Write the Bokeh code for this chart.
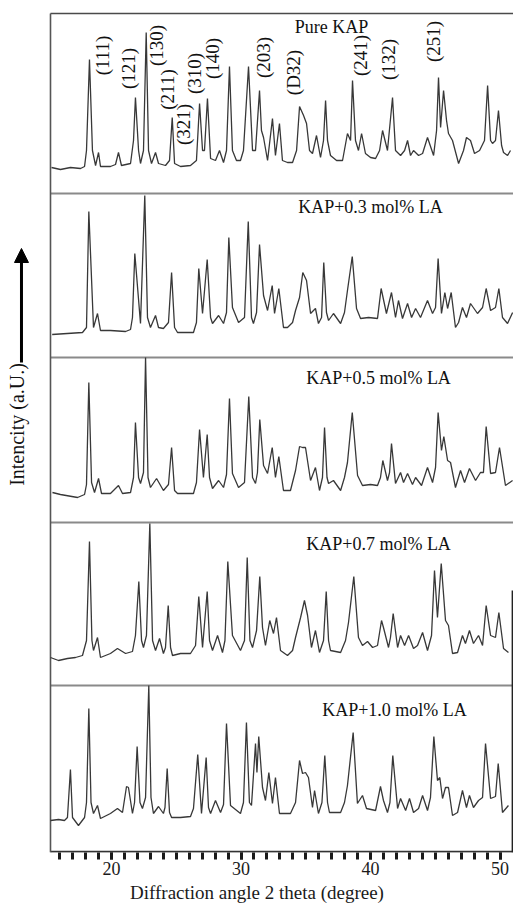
import numpy as np
from bokeh.plotting import figure
from bokeh.models import Range1d, FixedTicker, Arrow, NormalHead
from bokeh.core.properties import value
from bokeh.embed import file_html
from bokeh.resources import INLINE

# ---------------- data (2 theta in degrees, intensity in a.u.) ----------------
tt_pure = [15.37,16.06,16.83,17.61,17.92,18.07,18.30,18.53,18.77,19.00,
           19.15,19.92,20.31,20.54,20.77,21.47,21.70,21.85,22.09,22.24,
           22.47,22.68,22.86,23.09,23.40,23.63,24.17,24.48,24.69,24.87,
           25.33,26.10,26.56,26.80,27.03,27.18,27.41,27.65,28.03,28.34,
           28.65,28.88,29.11,29.34,29.65,29.96,30.19,30.58,30.89,31.12,
           31.43,31.58,31.74,32.05,32.43,32.66,32.97,33.20,33.59,33.98,
           34.29,34.52,34.83,35.06,35.29,35.52,35.83,36.14,36.37,36.53,
           36.68,36.91,37.38,37.84,38.22,38.46,38.61,38.84,39.07,39.31,
           39.61,40.00,40.39,40.70,40.93,41.31,41.70,41.93,42.32,42.63,
           42.86,43.09,43.32,43.71,44.02,44.40,44.87,45.10,45.25,45.41,
           45.64,45.87,46.02,46.33,46.80,47.18,47.41,47.72,48.03,48.42,
           48.80,49.04,49.27,49.42,49.65,49.88,50.12,50.27,50.58,50.81]
i_pure = [26,24,26,25,27,43,134,43,28,41,
          27,27,29,41,28,30,53,96,43,30,
          43,161,43,30,41,30,28,33,76,30,
          27,28,33,90,43,43,95,35,33,43,
          31,43,127,43,33,33,43,127,43,43,
          103,63,56,33,75,38,70,33,31,31,
          43,87,78,70,43,40,58,36,53,93,
          53,38,33,33,60,53,113,53,43,60,
          40,36,35,43,63,43,96,43,38,43,
          53,38,43,38,40,56,38,63,116,66,
          103,73,60,53,30,43,56,53,40,43,
          53,108,53,50,53,83,48,41,38,43]

tt_03 = [15.42,17.76,18.07,18.25,18.61,18.92,19.15,19.92,21.09,21.47,
         21.62,21.80,22.24,22.57,22.78,23.01,23.40,23.63,24.01,24.40,
         24.64,24.87,25.10,26.33,26.56,26.74,27.03,27.39,27.65,27.80,
         28.27,28.65,28.88,29.06,29.34,29.81,30.27,30.56,30.81,30.96,
         31.20,31.43,31.74,32.05,32.41,32.59,32.92,33.28,33.59,33.98,
         34.21,34.52,34.77,35.06,35.37,35.75,35.98,36.22,36.39,36.60,
         36.76,37.14,37.69,37.99,38.22,38.59,38.92,39.23,39.85,40.54,
         40.82,41.23,41.62,41.93,42.16,42.47,42.86,43.17,43.48,43.86,
         44.40,44.79,45.02,45.22,45.48,45.74,45.95,46.23,46.56,46.80,
         47.10,47.41,47.72,48.26,48.65,48.93,49.27,49.65,49.91,50.19,
         50.58,50.97]
i_03 = [23,25,30,146,30,44,27,27,26,28,
        40,104,34,162,40,30,42,30,29,35,
        85,30,25,25,35,89,44,98,40,34,
        42,34,45,120,50,35,40,136,40,34,
        45,113,62,47,72,44,69,30,30,35,
        47,60,85,77,44,49,34,40,95,45,
        37,44,34,45,67,101,49,39,40,39,
        69,44,65,40,57,39,54,40,49,40,
        57,44,50,99,44,65,49,65,30,35,
        50,40,54,44,50,69,47,50,69,40,
        34,45]

tt_05 = [15.44,16.06,17.38,17.92,18.07,18.25,18.46,18.69,19.00,19.23,
         19.92,20.54,20.85,21.47,21.70,21.85,22.09,22.24,22.47,22.63,
         22.82,23.01,23.48,24.01,24.40,24.64,24.87,25.10,26.33,26.56,
         26.80,27.10,27.39,27.57,27.80,28.27,28.65,28.88,29.11,29.34,
         29.81,30.27,30.60,30.89,31.12,31.27,31.45,31.74,32.05,32.41,
         32.66,32.92,33.28,33.82,34.21,34.52,34.75,34.98,35.37,35.75,
         36.06,36.29,36.45,36.64,36.76,37.14,37.69,37.99,38.22,38.59,
         39.00,39.38,40.00,40.54,40.77,40.95,41.31,41.47,41.62,41.93,
         42.32,42.55,42.86,43.24,43.48,43.94,44.40,44.79,45.02,45.22,
         45.48,45.66,45.95,46.18,46.56,46.95,47.26,47.64,48.11,48.49,
         48.72,48.93,49.27,49.65,49.96,50.42,50.97]
i_05 = [30,28,25,28,38,140,40,30,44,29,
        29,37,29,30,45,100,45,39,50,165,
        45,35,44,32,38,75,32,29,29,40,
        93,45,88,45,34,42,35,48,124,49,
        35,40,126,45,39,50,103,57,49,75,
        45,66,32,32,52,76,75,75,42,55,
        32,45,95,45,39,42,32,45,60,110,
        47,37,38,37,45,62,42,50,79,39,
        50,40,49,38,45,37,55,40,55,110,
        72,86,62,60,35,52,40,54,42,50,
        50,96,49,50,75,37,42]

tt_07 = [15.29,15.91,16.60,17.22,17.76,18.07,18.30,18.49,18.61,18.92,
         19.15,19.92,20.46,21.09,21.62,21.85,22.11,22.32,22.47,22.70,
         22.96,23.17,23.40,23.71,24.01,24.17,24.38,24.56,24.71,25.33,
         26.10,26.49,26.74,27.03,27.39,27.57,27.80,28.19,28.57,28.76,
         28.98,29.34,29.96,30.27,30.48,30.69,30.89,31.20,31.45,31.66,
         31.89,32.22,32.51,32.74,33.05,33.59,33.98,34.21,34.60,34.90,
         35.14,35.44,35.75,36.06,36.37,36.58,36.76,36.91,37.69,38.07,
         38.30,38.71,39.07,39.38,39.77,40.16,40.54,40.85,41.00,41.39,
         41.54,41.75,42.09,42.32,42.63,42.94,43.32,43.63,44.02,44.40,
         44.71,44.94,45.17,45.46,45.79,46.02,46.33,46.72,47.10,47.33,
         47.64,47.95,48.34,48.65,48.93,49.27,49.65,49.91,50.27,50.65]
i_07 = [28,25,27,28,30,45,144,45,35,48,
        28,32,37,32,34,50,104,45,38,50,
        162,45,35,47,32,38,80,38,30,32,
        32,40,89,38,94,45,35,50,33,45,
        124,50,35,45,128,45,38,55,109,58,
        40,65,52,68,35,30,35,48,68,85,
        70,38,55,33,45,94,45,35,33,45,
        63,109,48,40,44,38,40,65,58,38,
        48,72,38,50,40,50,37,40,53,35,
        50,115,68,122,65,60,32,33,50,42,
        55,42,50,40,80,50,48,73,37,33]

tt_10 = [15.29,15.91,16.37,16.60,16.83,16.99,17.45,17.92,18.07,18.25,
         18.42,18.61,18.92,19.15,19.92,20.46,20.85,21.16,21.31,21.62,
         21.78,21.98,22.20,22.39,22.63,22.88,23.05,23.24,23.63,24.01,
         24.13,24.30,24.48,24.64,25.33,26.10,26.33,26.66,26.95,27.31,
         27.49,27.65,28.03,28.42,28.65,28.88,29.19,29.96,30.19,30.42,
         30.65,30.81,31.12,31.23,31.37,31.66,31.89,32.15,32.43,32.66,
         32.97,33.82,34.21,34.52,34.75,34.98,35.21,35.52,35.68,35.98,
         36.25,36.47,36.68,36.83,37.69,37.99,38.22,38.66,38.99,39.38,
         39.69,40.39,40.77,41.00,41.31,41.50,41.72,42.09,42.32,42.71,
         43.01,43.32,43.71,44.02,44.40,44.63,44.89,45.17,45.35,45.56,
         45.79,46.02,46.33,46.72,47.10,47.41,47.64,47.95,48.34,48.65,
         48.88,49.27,49.65,49.86,50.19,50.65]
i_10 = [32,33,32,35,83,35,27,35,50,144,
        50,39,47,34,39,44,40,66,65,39,
        50,106,50,44,55,167,55,39,46,39,
        45,84,40,35,35,36,44,98,39,95,
        45,39,52,40,48,129,47,39,50,130,
        50,47,109,80,116,65,52,80,49,75,
        39,39,50,92,79,80,75,45,62,39,
        50,97,50,40,40,50,67,120,49,57,
        44,42,66,52,40,50,97,44,54,42,
        54,40,44,57,42,55,116,72,75,54,
        65,65,37,40,62,45,57,45,52,55,
        109,54,56,89,40,47]

sample_labels = ["Pure KAP", "KAP+0.3 mol% LA", "KAP+0.5 mol% LA",
                 "KAP+0.7 mol% LA", "KAP+1.0 mol% LA"]
hkl_labels = ["(111)", "(121)", "(130)", "(211)", "(321)", "(310)", "(140)",
              "(203)", "(D32)", "(241)", "(132)", "(251)"]
x_tick_values = [20, 30, 40, 50]
x_minor_ticks = list(range(16, 51))

# ---------------- layout ----------------
X_LO, X_HI = 15.29, 51.04          # frame of the chart (data units)
X_VIEW = (11.43, 51.04)            # whole canvas width
panel_bottom = [659, 495, 330, 167, 0]
panel_top = 839

FONT = value("Liberation Serif")
LINE = "#383838"

p = figure(width=513, height=907, output_backend="svg", toolbar_location=None,
           x_range=Range1d(*X_VIEW), y_range=Range1d(0, 852),
           y_axis_location=None, min_border_left=0, min_border_right=0,
           min_border_top=0, min_border_bottom=55)
p.outline_line_color = None
p.xgrid.visible = False
p.ygrid.visible = False
p.background_fill_color = "white"

ax = p.xaxis[0]
ax.ticker = FixedTicker(ticks=x_tick_values, minor_ticks=x_minor_ticks)
ax.axis_line_color = None
ax.major_tick_in = 0
ax.major_tick_out = 7
ax.minor_tick_in = 0
ax.minor_tick_out = 7
ax.major_tick_line_width = 3
ax.minor_tick_line_width = 3
ax.major_tick_line_color = "#1a1a1a"
ax.minor_tick_line_color = "#1a1a1a"
ax.major_label_text_font = "Liberation Serif"
ax.major_label_text_font_size = "18px"
ax.major_label_text_color = "#1a1a1a"
ax.major_label_standoff = 2
ax.axis_label = "Diffraction angle 2 theta (degree)"
ax.axis_label_text_font = "Liberation Serif"
ax.axis_label_text_font_size = "19px"
ax.axis_label_text_font_style = "normal"
ax.axis_label_text_color = "#1a1a1a"
ax.axis_label_standoff = 4

# frame lines
p.segment(x0=[X_LO] * 4, y0=panel_bottom[:-1], x1=[X_HI] * 4, y1=panel_bottom[:-1],
          line_color="#8a8a8a", line_width=2)
p.segment(x0=[X_LO], y0=[panel_top], x1=[X_HI], y1=[panel_top],
          line_color="#4a4a4a", line_width=1.6)
p.segment(x0=[X_LO], y0=[0.8], x1=[X_HI], y1=[0.8],
          line_color="#333333", line_width=2)
p.segment(x0=[X_LO], y0=[0], x1=[X_LO], y1=[panel_top],
          line_color="#555555", line_width=1.6)
p.segment(x0=[X_HI - 0.03], y0=[0], x1=[X_HI - 0.03], y1=[262],
          line_color="#222222", line_width=3)

# traces
series = [(tt_pure, i_pure), (tt_03, i_03), (tt_05, i_05), (tt_07, i_07), (tt_10, i_10)]
for (tt, ii), base in zip(series, panel_bottom):
    p.line(x=tt, y=[base + v for v in ii], line_color=LINE, line_width=1.3)

# sample labels
lab_x = [36.99, 40.00, 40.62, 40.62, 41.85]
lab_y = [826, 646, 475, 309, 143]
p.text(x=lab_x, y=lab_y, text=sample_labels, text_align="center",
       text_baseline="middle", text_font=FONT, text_font_size=value("18px"),
       text_color="#111111")

# Miller indices (rotated)
hkl_x = [19.31, 21.31, 23.48, 24.32, 25.56, 26.41, 27.80, 31.74, 34.05, 39.23, 41.39, 44.86]
hkl_y = [797, 784, 807, 763, 728, 779, 794, 795, 780, 797, 793, 811]
p.text(x=hkl_x, y=hkl_y, text=hkl_labels, angle=np.pi / 2, text_align="center",
       text_baseline="middle", text_font=FONT, text_font_size=value("19px"),
       text_color="#111111")

# y label + arrow
p.text(x=[12.70], y=[428], text=["Intencity (a.U.)"], angle=np.pi / 2,
       text_align="center", text_baseline="middle", text_font=FONT,
       text_font_size=value("20px"), text_color="#111111")
p.add_layout(Arrow(end=NormalHead(size=14, fill_color="black", line_color="black"),
                   x_start=13.05, y_start=490, x_end=13.05, y_end=604,
                   line_width=3, line_color="black"))

open("out.html", "w").write(file_html(p, INLINE))
